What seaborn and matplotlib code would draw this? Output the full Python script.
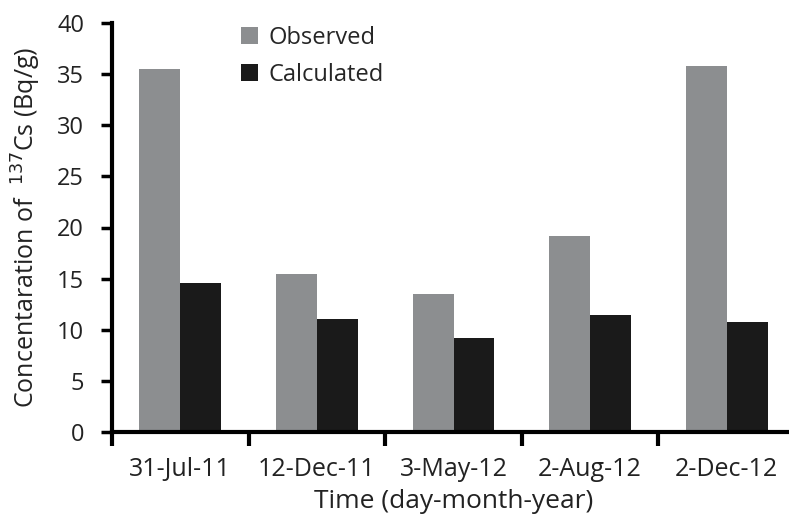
import numpy as np
import pandas as pd
import matplotlib
matplotlib.use("Agg")
import matplotlib.pyplot as plt
from matplotlib.ticker import FixedLocator
import seaborn as sns

# values
dates = ["31-Jul-11", "12-Dec-11", "3-May-12", "2-Aug-12", "2-Dec-12"]
observed = [35.5, 15.5, 13.5, 19.2, 35.8]
calculated = [14.6, 11.1, 9.2, 11.4, 10.8]
series_names = ["Observed", "Calculated"]
y_ticks = [0, 5, 10, 15, 20, 25, 30, 35, 40]

df = pd.DataFrame({
    "date": dates * 2,
    "value": observed + calculated,
    "series": [series_names[0]] * len(dates) + [series_names[1]] * len(dates),
})

sns.set_style("white")
plt.rcParams["font.family"] = ["Open Sans", "DejaVu Sans"]
txt = "#222222"

fig = plt.figure(figsize=(7.89, 5.2), dpi=100)
# right edge runs slightly past the figure, as in the reference
ax = fig.add_axes([112 / 789, 88 / 520, 683 / 789, 409 / 520])

sns.barplot(data=df, x="date", y="value", hue="series", order=dates,
            hue_order=series_names, palette=["#8c8e90", "#1a1a1a"],
            width=0.6, gap=0, saturation=1, linewidth=0, ax=ax, legend=True)

ax.set_xlim(-0.5, len(dates) - 0.5)
ax.set_ylim(0, 40)
ax.set_yticks(y_ticks)
ax.tick_params(axis="y", direction="out", length=8, width=2.5, labelsize=17,
               left=True, color="black", labelcolor=txt, pad=12)
ax.tick_params(axis="x", which="major", length=0, labelsize=18,
               labelcolor=txt, pad=18)
ax.xaxis.set_minor_locator(FixedLocator(np.arange(-0.5, len(dates) - 0.4, 1.0)))
ax.tick_params(axis="x", which="minor", direction="out", length=10, width=3,
               bottom=True, color="black")

sns.despine(ax=ax)
for side in ["left", "bottom"]:
    ax.spines[side].set_linewidth(3)
    ax.spines[side].set_color("black")

ax.set_xlabel("Time (day-month-year)", fontsize=19, color=txt, labelpad=5)
ax.set_ylabel("Concentaration of  $^{137}$Cs (Bq/g)", fontsize=18,
              color=txt, labelpad=10)

ax.legend(loc="upper left", bbox_to_anchor=(241 / 789, 1.0 - 26 / 520),
          bbox_transform=fig.transFigure, frameon=False,
          fontsize=17, handlelength=0.7, handleheight=0.7,
          handletextpad=0.45, labelspacing=0.55, borderaxespad=0,
          borderpad=0)

fig.savefig("out.png", dpi=100)
